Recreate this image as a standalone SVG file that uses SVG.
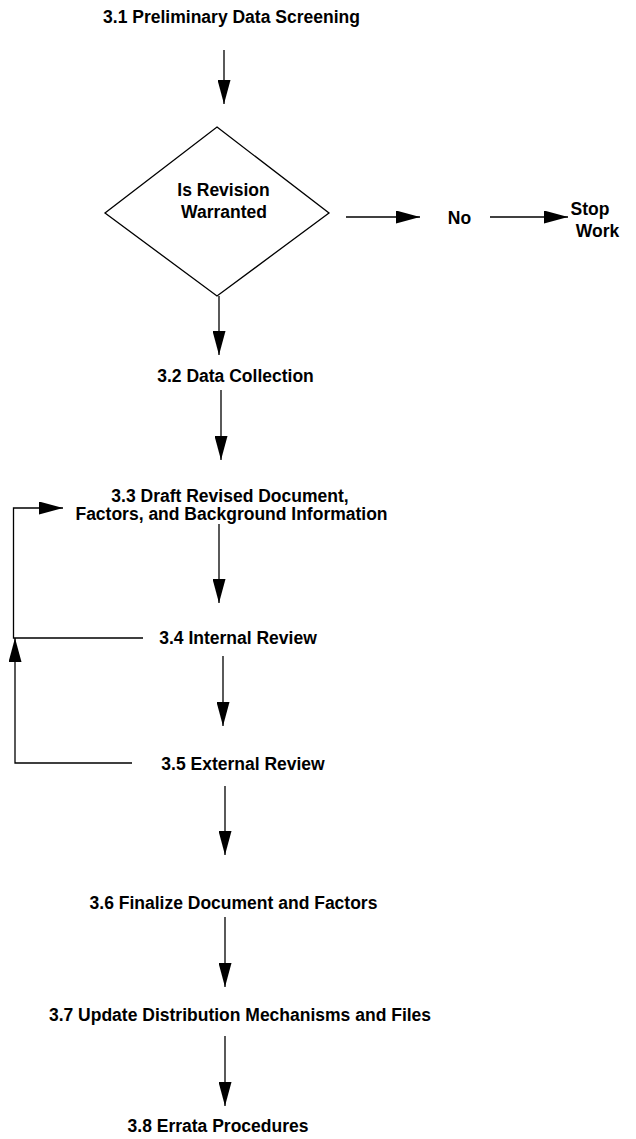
<svg xmlns="http://www.w3.org/2000/svg" width="636" height="1139" viewBox="0 0 636 1139">
<style>
text{font-family:"Liberation Sans",Arial,sans-serif;font-weight:bold;font-size:17.5px;fill:#000;text-anchor:middle}
.ln{stroke:#000;stroke-width:1.3;fill:none}
.arr{marker-end:url(#ah)}
</style>
<defs>
<marker id="ah" markerUnits="userSpaceOnUse" markerWidth="25" markerHeight="13" refX="24" refY="6.5" orient="auto">
<path d="M0,0 L24,6.5 L0,13 z" fill="#000"/>
</marker>
</defs>
<rect width="636" height="1139" fill="#fff"/>
<g id="connectors">
<line class="ln arr" x1="224" y1="50" x2="224" y2="104"/>
<line class="ln arr" x1="346" y1="217" x2="420" y2="217"/>
<line class="ln arr" x1="490" y1="217" x2="568" y2="217"/>
<line class="ln arr" x1="219" y1="296" x2="219" y2="355"/>
<line class="ln arr" x1="221" y1="390" x2="221" y2="460"/>
<line class="ln arr" x1="219" y1="524" x2="219" y2="603"/>
<line class="ln arr" x1="223" y1="656" x2="223" y2="726"/>
<line class="ln arr" x1="225" y1="786" x2="225" y2="855"/>
<line class="ln arr" x1="225" y1="917" x2="225" y2="987"/>
<line class="ln arr" x1="225" y1="1036" x2="225" y2="1106"/>
<polyline class="ln arr" points="143,638 13.5,638 13.5,508 63,508"/>
<polyline class="ln arr" points="132,763 15,763 15,638"/>
</g>
<g id="n31"><text x="231.5" y="23">3.1 Preliminary Data Screening</text></g>
<g id="decision">
<polygon class="ln" points="217,127 329,213 217,296 105,213" fill="#fff"/>
<text x="223.5" y="196">Is Revision</text>
<text x="224" y="218">Warranted</text>
</g>
<g id="no"><text x="459.5" y="224">No</text></g>
<g id="stop">
<text x="590" y="215">Stop</text>
<text x="597.5" y="237">Work</text>
</g>
<g id="n32"><text x="235.5" y="382">3.2 Data Collection</text></g>
<g id="n33">
<text x="230" y="502">3.3 Draft Revised Document,</text>
<text x="231.5" y="520">Factors, and Background Information</text>
</g>
<g id="n34"><text x="238" y="643.5">3.4 Internal Review</text></g>
<g id="n35"><text x="243" y="770">3.5 External Review</text></g>
<g id="n36"><text x="233.5" y="909">3.6 Finalize Document and Factors</text></g>
<g id="n37"><text x="240" y="1021">3.7 Update Distribution Mechanisms and Files</text></g>
<g id="n38"><text x="218" y="1132">3.8 Errata Procedures</text></g>
</svg>
